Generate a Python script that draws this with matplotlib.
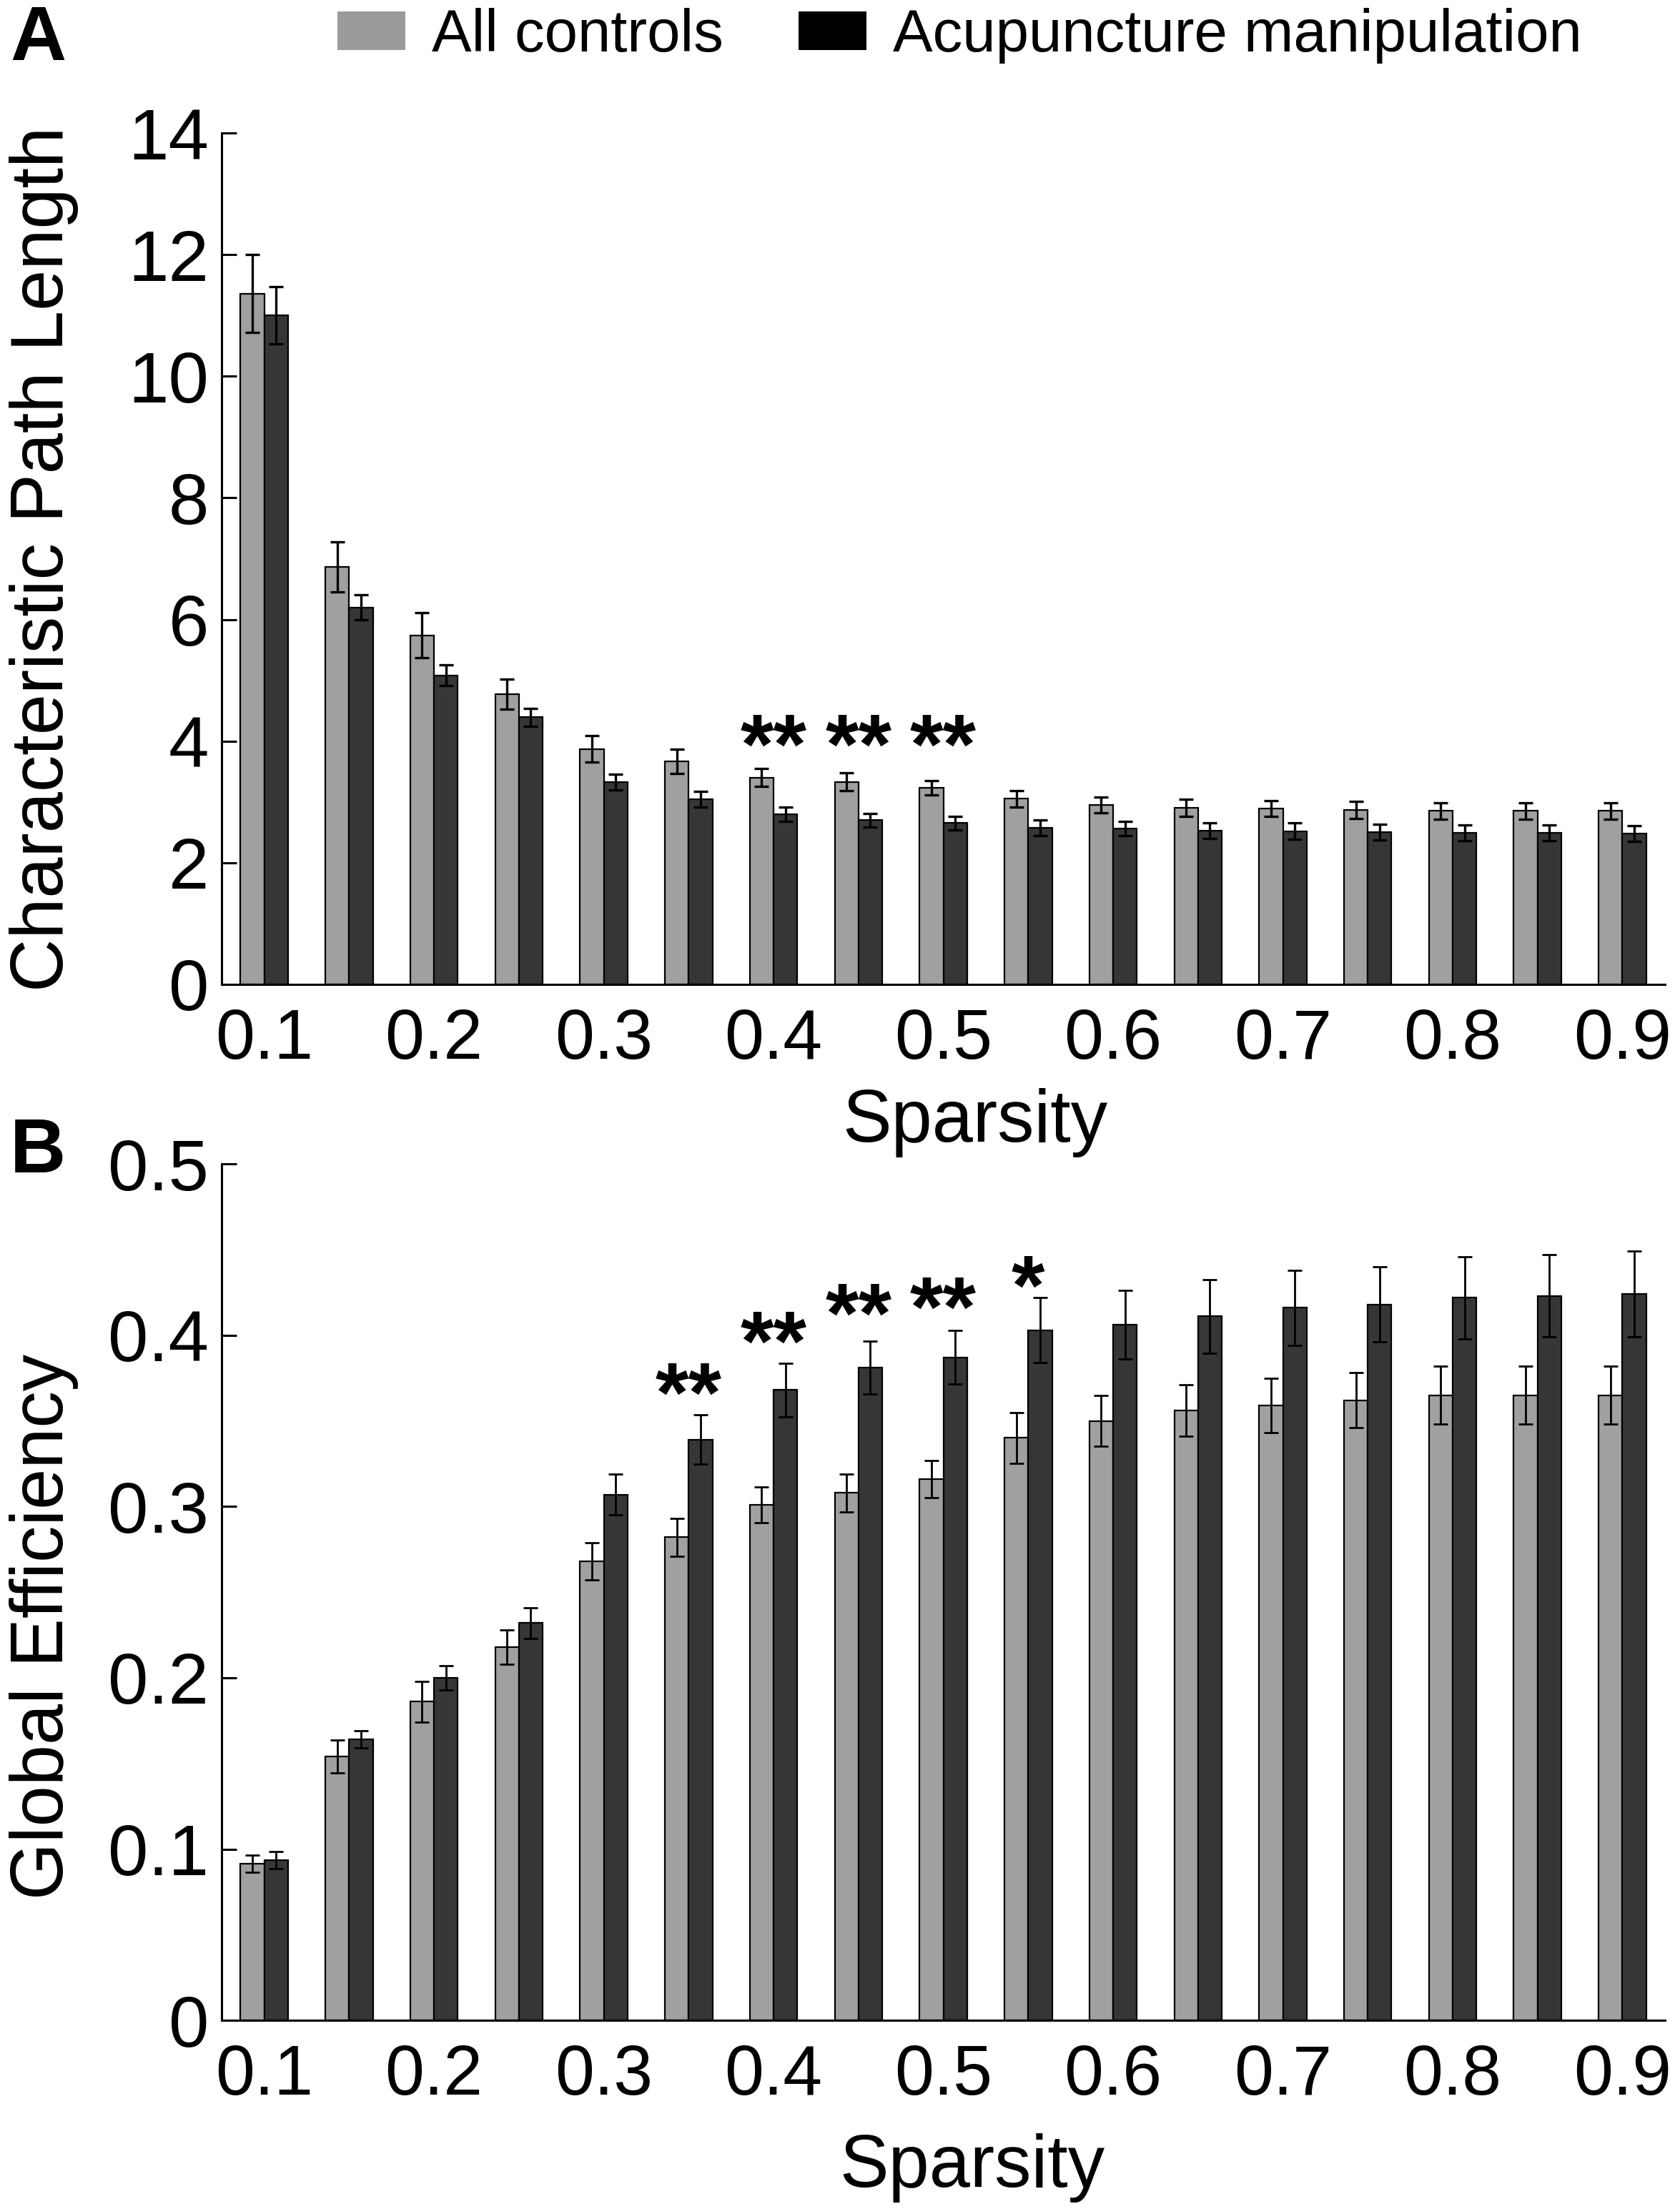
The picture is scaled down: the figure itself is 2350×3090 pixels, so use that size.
import numpy as np
import matplotlib
matplotlib.use("Agg")
import matplotlib.pyplot as plt
from matplotlib.patches import Patch

plt.rcParams['font.family'] = ['Liberation Sans', 'DejaVu Sans']

# datos
sparsity = [0.10, 0.15, 0.20, 0.25, 0.30, 0.35, 0.40, 0.45, 0.50,
            0.55, 0.60, 0.65, 0.70, 0.75, 0.80, 0.85, 0.90]
tick_vals = [0.1, 0.2, 0.3, 0.4, 0.5, 0.6, 0.7, 0.8, 0.9]
tick_labels = ["0.1", "0.2", "0.3", "0.4", "0.5", "0.6", "0.7", "0.8", "0.9"]

# A: Characteristic Path Length
lp_ctrl = [11.36, 6.86, 5.74, 4.77, 3.87, 3.67, 3.40, 3.33, 3.23,
           3.05, 2.95, 2.90, 2.89, 2.87, 2.85, 2.85, 2.85]
lp_ctrl_err = [0.64, 0.41, 0.37, 0.25, 0.22, 0.20, 0.15, 0.15, 0.12,
               0.14, 0.13, 0.14, 0.13, 0.14, 0.14, 0.14, 0.14]
lp_acu = [11.00, 6.20, 5.08, 4.39, 3.33, 3.04, 2.80, 2.70, 2.65,
          2.57, 2.56, 2.53, 2.52, 2.50, 2.49, 2.49, 2.48]
lp_acu_err = [0.47, 0.21, 0.17, 0.15, 0.13, 0.13, 0.12, 0.11, 0.11,
              0.13, 0.12, 0.13, 0.13, 0.13, 0.13, 0.13, 0.13]
lp_sig = ["", "", "", "", "", "", "**", "**", "**",
          "", "", "", "", "", "", "", ""]
lp_sig_y = 4.16

# B: Global Efficiency
ge_ctrl = [0.0916, 0.154, 0.186, 0.218, 0.268, 0.282, 0.301, 0.308, 0.316,
           0.340, 0.350, 0.356, 0.359, 0.362, 0.365, 0.365, 0.365]
ge_ctrl_err = [0.005, 0.0095, 0.012, 0.010, 0.011, 0.011, 0.0105, 0.011, 0.011,
               0.015, 0.015, 0.015, 0.016, 0.016, 0.017, 0.017, 0.017]
ge_acu = [0.0935, 0.164, 0.200, 0.232, 0.307, 0.339, 0.368, 0.381, 0.387,
          0.403, 0.406, 0.411, 0.416, 0.418, 0.422, 0.423, 0.424]
ge_acu_err = [0.005, 0.005, 0.007, 0.009, 0.012, 0.0144, 0.0157, 0.0154, 0.0157,
              0.019, 0.020, 0.0215, 0.022, 0.022, 0.024, 0.024, 0.025]
ge_sig = ["", "", "", "", "", "**", "**", "**", "**",
          "*", "", "", "", "", "", "", ""]
ge_sig_y = [0, 0, 0, 0, 0, 0.374, 0.404, 0.420, 0.424,
            0.4365, 0, 0, 0, 0, 0, 0, 0]

gris = "#a0a0a0"
oscuro = "#363636"
ancho = 0.014

fig = plt.figure(figsize=(23.5, 30.9), dpi=100)
axA = fig.add_axes([0.132, 0.5544, 0.859, 0.3854])
axB = fig.add_axes([0.132, 0.0854, 0.859, 0.3877])


def dibujar(ax, ctrl, ctrl_err, acu, acu_err, elw):
    x = np.array(sparsity)
    ax.bar(x - ancho / 2, ctrl, width=ancho, color=gris, edgecolor="black",
           linewidth=1.6, zorder=2)
    ax.bar(x + ancho / 2, acu, width=ancho, color=oscuro, edgecolor="black",
           linewidth=1.6, zorder=2)
    ax.errorbar(x - ancho / 2, ctrl, yerr=ctrl_err, fmt="none", ecolor="black",
                elinewidth=elw, capsize=7, capthick=elw, zorder=3)
    ax.errorbar(x + ancho / 2, acu, yerr=acu_err, fmt="none", ecolor="black",
                elinewidth=elw, capsize=7, capthick=elw, zorder=3)
    ax.set_xlim(0.075, 0.925)
    ax.set_xticks(tick_vals)
    ax.set_xticklabels(tick_labels)
    ax.spines["top"].set_visible(False)
    ax.spines["right"].set_visible(False)
    ax.spines["left"].set_linewidth(2.2)
    ax.spines["bottom"].set_linewidth(2.2)
    ax.tick_params(axis="y", direction="in", length=15, width=2.2,
                   labelsize=73, pad=13)
    ax.tick_params(axis="x", length=0, labelsize=71, pad=24)
    ax.set_xlabel("Sparsity", fontsize=74)


def estrellas(ax, marcas, alturas):
    for xi, s, yy in zip(sparsity, marcas, alturas):
        if s:
            ax.annotate(s, (xi, yy), xytext=(0, -20), textcoords="offset points",
                        ha="center", va="center", fontsize=86, fontweight="bold")


dibujar(axA, lp_ctrl, lp_ctrl_err, lp_acu, lp_acu_err, 2.4)
axA.set_ylim(0, 14)
axA.set_yticks([0, 2, 4, 6, 8, 10, 12, 14])
axA.set_ylabel("Characteristic Path Length", fontsize=74)
axA.yaxis.set_label_coords(-0.099, 0.5)
axA.xaxis.set_label_coords(0.522, -0.122)
estrellas(axA, lp_sig, [lp_sig_y] * len(sparsity))

dibujar(axB, ge_ctrl, ge_ctrl_err, ge_acu, ge_acu_err, 2.0)
axB.set_ylim(0, 0.5)
axB.set_yticks([0, 0.1, 0.2, 0.3, 0.4, 0.5])
axB.set_yticklabels(["0", "0.1", "0.2", "0.3", "0.4", "0.5"])
axB.set_ylabel("Global Efficiency", fontsize=74)
axB.yaxis.set_label_coords(-0.099, 0.46)
axB.xaxis.set_label_coords(0.52, -0.132)
estrellas(axB, ge_sig, ge_sig_y)

# leyenda arriba
handles = [Patch(facecolor="#9a9a9a", edgecolor="none", label="All controls"),
           Patch(facecolor="black", edgecolor="none", label="Acupuncture manipulation")]
fig.legend(handles=handles, loc="center left", bbox_to_anchor=(472 / 2350, 1 - 50 / 3090),
           ncol=2, frameon=False, fontsize=60, handlelength=1.14, handleheight=0.62,
           handletextpad=0.45, columnspacing=1.25, borderpad=0, borderaxespad=0)

fig.text(14 / 2350, 1 - 56 / 3090, "A", fontsize=78, fontweight="bold", va="center", ha="left")
fig.text(14 / 2350, 1 - 1612 / 3090, "B", fontsize=78, fontweight="bold", va="center", ha="left")

fig.savefig("out.png", dpi=100)
